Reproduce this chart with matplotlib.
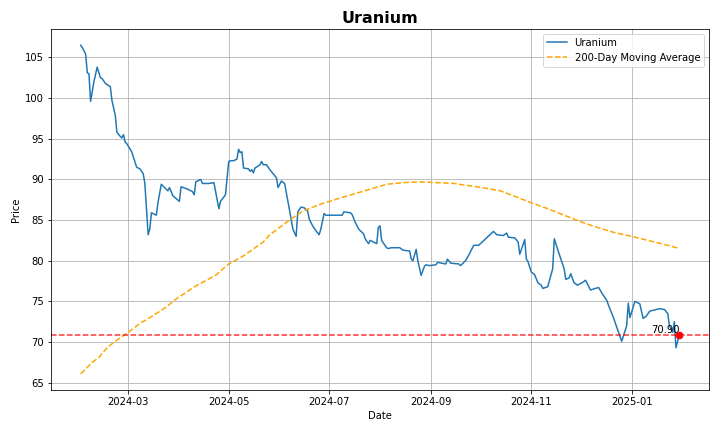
"""Uranium price with its 200-day moving average and the latest close."""
import pandas as pd
import matplotlib
matplotlib.use("Agg")
import matplotlib.pyplot as plt

PRICE_DATES = [
    "2024-02-01", "2024-02-02", "2024-02-04", "2024-02-05", "2024-02-06", "2024-02-07",
    "2024-02-09", "2024-02-11", "2024-02-13", "2024-02-14", "2024-02-16", "2024-02-19",
    "2024-02-20", "2024-02-22", "2024-02-23", "2024-02-25", "2024-02-26", "2024-02-27",
    "2024-02-28", "2024-02-29", "2024-03-03", "2024-03-06", "2024-03-08", "2024-03-10",
    "2024-03-11", "2024-03-13", "2024-03-14", "2024-03-15", "2024-03-18", "2024-03-19",
    "2024-03-21", "2024-03-23", "2024-03-25", "2024-03-26", "2024-03-28", "2024-04-01",
    "2024-04-02", "2024-04-06", "2024-04-09", "2024-04-10", "2024-04-11", "2024-04-14",
    "2024-04-15", "2024-04-19", "2024-04-22", "2024-04-25", "2024-04-26", "2024-04-29",
    "2024-05-01", "2024-05-02", "2024-05-04", "2024-05-06", "2024-05-07", "2024-05-08",
    "2024-05-09", "2024-05-10", "2024-05-13", "2024-05-14", "2024-05-15", "2024-05-16",
    "2024-05-17", "2024-05-20", "2024-05-21", "2024-05-22", "2024-05-24", "2024-05-26",
    "2024-05-30", "2024-05-31", "2024-06-02", "2024-06-04", "2024-06-07", "2024-06-09",
    "2024-06-11", "2024-06-12", "2024-06-14", "2024-06-16", "2024-06-18", "2024-06-19",
    "2024-06-21", "2024-06-23", "2024-06-25", "2024-06-26", "2024-06-28", "2024-06-29",
    "2024-07-09", "2024-07-10", "2024-07-14", "2024-07-15", "2024-07-17", "2024-07-19",
    "2024-07-22", "2024-07-23", "2024-07-25", "2024-07-26", "2024-07-28", "2024-07-30",
    "2024-07-31", "2024-08-01", "2024-08-02", "2024-08-05", "2024-08-06", "2024-08-08",
    "2024-08-13", "2024-08-15", "2024-08-19", "2024-08-20", "2024-08-21", "2024-08-23",
    "2024-08-24", "2024-08-26", "2024-08-28", "2024-08-29", "2024-08-31", "2024-09-04",
    "2024-09-05", "2024-09-10", "2024-09-11", "2024-09-13", "2024-09-18", "2024-09-19",
    "2024-09-22", "2024-09-24", "2024-09-27", "2024-09-30", "2024-10-09", "2024-10-11",
    "2024-10-15", "2024-10-17", "2024-10-18", "2024-10-22", "2024-10-24", "2024-10-25",
    "2024-10-28", "2024-10-29", "2024-10-30", "2024-11-01", "2024-11-03", "2024-11-05",
    "2024-11-07", "2024-11-08", "2024-11-11", "2024-11-14", "2024-11-15", "2024-11-18",
    "2024-11-21", "2024-11-22", "2024-11-24", "2024-11-25", "2024-11-27", "2024-11-29",
    "2024-12-02", "2024-12-04", "2024-12-07", "2024-12-10", "2024-12-12", "2024-12-14",
    "2024-12-17", "2024-12-18", "2024-12-21", "2024-12-23", "2024-12-26", "2024-12-29",
    "2024-12-30", "2024-12-31", "2025-01-03", "2025-01-06", "2025-01-08", "2025-01-10",
    "2025-01-12", "2025-01-16", "2025-01-18", "2025-01-21", "2025-01-23", "2025-01-24",
    "2025-01-26", "2025-01-27", "2025-01-28", "2025-01-30",
]
PRICES = [
    106.5, 106.2, 105.4, 103.1, 103.0, 99.6,
    102.0, 103.8, 102.5, 102.4, 101.8, 101.4,
    99.7, 97.9, 95.8, 95.3, 95.1, 95.5,
    94.6, 94.4, 93.4, 91.5, 91.3, 90.7,
    89.5, 83.2, 83.9, 85.9, 85.6, 87.2,
    89.4, 89.0, 88.6, 89.0, 88.0, 87.3,
    89.1, 88.8, 88.5, 88.1, 89.7, 90.0,
    89.5, 89.5, 89.6, 86.4, 87.3, 88.1,
    92.2, 92.3, 92.3, 92.5, 93.7, 93.3,
    93.4, 91.4, 91.3, 91.0, 91.2, 90.8,
    91.4, 91.8, 92.2, 91.8, 91.8, 91.2,
    90.2, 89.0, 89.8, 89.5, 86.2, 83.9,
    83.0, 86.0, 86.6, 86.5, 86.1, 85.1,
    84.3, 83.7, 83.2, 83.9, 85.8, 85.6,
    85.6, 86.0, 85.9, 85.7, 84.7, 83.9,
    83.3, 82.7, 82.1, 82.5, 82.3, 82.1,
    84.1, 84.3, 82.5, 81.6, 81.5, 81.6,
    81.6, 81.3, 81.2, 80.2, 80.0, 81.4,
    80.0, 78.2, 79.3, 79.5, 79.4, 79.5,
    79.8, 79.6, 80.2, 79.7, 79.6, 79.4,
    80.0, 80.7, 81.9, 81.9, 83.6, 83.2,
    83.1, 83.4, 82.9, 82.8, 82.3, 80.8,
    82.6, 80.2, 79.9, 78.6, 78.3, 77.3,
    77.0, 76.6, 76.8, 79.0, 82.7, 80.8,
    79.0, 77.7, 77.9, 78.4, 77.3, 77.0,
    77.3, 77.6, 76.4, 76.6, 76.7, 76.0,
    75.1, 74.5, 73.0, 71.8, 70.1, 72.0,
    74.8, 73.0, 75.0, 74.7, 72.9, 73.2,
    73.8, 74.0, 74.1, 74.0, 73.5, 72.0,
    71.2, 72.5, 69.3, 70.9,
]

MA_DATES = [
    "2024-02-01", "2024-02-08", "2024-02-12", "2024-02-17", "2024-02-22", "2024-03-01",
    "2024-03-08", "2024-03-14", "2024-03-24", "2024-03-30", "2024-04-11", "2024-04-23",
    "2024-05-01", "2024-05-10", "2024-05-22", "2024-05-26", "2024-06-01", "2024-06-07",
    "2024-06-15", "2024-06-25", "2024-07-06", "2024-07-16", "2024-07-26", "2024-08-05",
    "2024-08-15", "2024-08-25", "2024-09-05", "2024-09-15", "2024-09-25", "2024-10-05",
    "2024-10-13", "2024-10-21", "2024-10-31", "2024-11-11", "2024-11-21", "2024-12-01",
    "2024-12-11", "2024-12-21", "2025-01-01", "2025-01-11", "2025-01-21", "2025-01-30",
]
MA_VALUES = [
    66.1, 67.5, 68.1, 69.3, 70.1, 71.2,
    72.3, 73.0, 74.3, 75.3, 76.9, 78.2,
    79.6, 80.6, 82.3, 83.2, 84.1, 85.0,
    86.1, 86.9, 87.6, 88.2, 88.8, 89.4,
    89.6, 89.7, 89.6, 89.5, 89.2, 88.9,
    88.6, 88.0, 87.2, 86.4, 85.6, 84.8,
    84.1, 83.5, 83.0, 82.5, 82.0, 81.5,
]

LAST_PRICE = 70.90


def main():
    price = pd.Series(PRICES, index=pd.to_datetime(PRICE_DATES))
    ma = pd.Series(MA_VALUES, index=pd.to_datetime(MA_DATES))

    fig, ax = plt.subplots(figsize=(10, 6), dpi=72)
    ax.plot(price.index, price.values, color="tab:blue", lw=1.5, label="Uranium")
    ax.plot(ma.index, ma.values, "--", color="orange", lw=1.5, label="200-Day Moving Average")
    ax.axhline(LAST_PRICE, color="red", ls="--", lw=1.5, alpha=0.8)
    last_date = price.index[-1]
    ax.scatter([last_date], [LAST_PRICE], color="red", s=45, zorder=5)
    ax.text(last_date, LAST_PRICE, f"{LAST_PRICE:.2f}", ha="right", va="bottom", fontsize=10)

    ax.set_title("Uranium", fontsize=16, fontweight="bold")
    ax.set_xlabel("Date")
    ax.set_ylabel("Price")
    ax.grid(True)
    ax.legend(loc="upper right")
    fig.tight_layout()
    fig.savefig("out.png", dpi=72)


if __name__ == "__main__":
    main()
